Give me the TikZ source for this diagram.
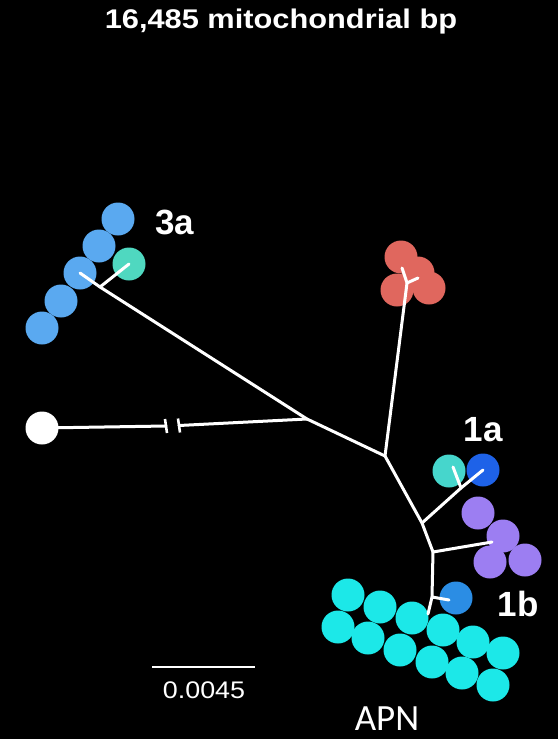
\documentclass[tikz,border=0pt]{standalone}
\usepackage{fontspec}
\setmainfont{Liberation Sans}
\newfontfamily\apnfont{Carlito}
\begin{document}
\begin{tikzpicture}[x=1pt,y=-1pt,
  dot/.style={circle,inner sep=0pt,minimum size=33pt,draw=none},
  blu3/.style={dot,fill=c3a},
  branch/.style={draw=white,line width=3pt,line cap=round,line join=round},
  lbl/.style={text=white,font=\bfseries\fontsize{35}{40}\selectfont,inner sep=0pt}]
\definecolor{c3a}{HTML}{5AA9F0}
\definecolor{cteal}{HTML}{4FD8C0}
\definecolor{cred}{HTML}{E0675E}
\definecolor{cteal1}{HTML}{46D6CC}
\definecolor{cblue1}{HTML}{1E62E8}
\definecolor{cpur}{HTML}{9C7EF2}
\definecolor{cblue1b}{HTML}{2B8DE4}
\definecolor{ccyan}{HTML}{1CE8E8}
\fill[black] (0,0) rectangle (558,739);
\useasboundingbox (0,0) rectangle (558,739);
% title
\node[text=white,font=\bfseries\fontsize{27}{32}\selectfont,xscale=1.14,inner sep=0pt] (title) at (281,22) {16,485 mitochondrial bp};
% 3a cluster
\node[blu3] (a1) at (118,219) {};
\node[blu3] (a2) at (99,246) {};
\node[blu3] (a3) at (80,273) {};
\node[blu3] (a4) at (61,301) {};
\node[blu3] (a5) at (42,328) {};
\node[dot,fill=cteal] (at) at (129,264) {};
\node[lbl] (l3a) at (175,222) {3a};
% red cluster
\node[dot,fill=cred] (r1) at (401,257) {};
\node[dot,fill=cred] (r2) at (418,273) {};
\node[dot,fill=cred] (r3) at (429,288) {};
\node[dot,fill=cred] (r4) at (397,290) {};
% outgroup
\node[dot,fill=white] (og) at (42,428) {};
% 1a
\node[dot,fill=cteal1] (t1) at (449,471) {};
\node[dot,fill=cblue1] (b1) at (483,470) {};
\node[lbl] (l1a) at (483,430) {1a};
% purple
\node[dot,fill=cpur] (p1) at (478,513) {};
\node[dot,fill=cpur] (p2) at (503,536) {};
\node[dot,fill=cpur] (p3) at (490,562) {};
\node[dot,fill=cpur] (p4) at (525,560) {};
% 1b
\node[dot,fill=cblue1b] (b1b) at (456,598) {};
\node[lbl] (l1b) at (518,604) {1b};
% cyan cluster
\foreach \i/\x/\y in {1/348/595,2/380/607,3/412/618,4/443/630,5/473/642,6/503/653,
                      7/338/627,8/368/638,9/400/650,10/432/662,11/462/673,12/493/685}
  \node[dot,fill=ccyan] (cy\i) at (\x,\y) {};
% tree junctions
\coordinate (c0) at (385,456);
\coordinate (j3) at (307,419);
\coordinate (j3a) at (100,287);
\coordinate (rj) at (407,283);
\coordinate (re1) at (402,268);
\coordinate (re2) at (418,278);
\coordinate (j1) at (422,523);
\coordinate (j1a) at (461,488);
\coordinate (j2) at (433,552);
\coordinate (pe) at (492,542);
\coordinate (jb) at (432,597);
\coordinate (ce) at (428,614);
\coordinate (be) at (449,600);
\coordinate (brkL) at (166,426);
\coordinate (brkR) at (179,425.5);
% branches
\draw[branch] (a3.center) -- (j3a) -- (j3) -- (c0);
\draw[branch] (j3a) -- (at.center);
\draw[branch] (og.center) -- (brkL);
\draw[branch] (brkR) -- (j3);
\draw[draw=white,line width=2.6pt] ([shift={(-1,-7)}]brkL) -- ([shift={(1,7)}]brkL);
\draw[draw=white,line width=2.6pt] ([shift={(-1,-7)}]brkR) -- ([shift={(1,7)}]brkR);
\draw[branch] (c0) -- (rj) -- (re1);
\draw[branch] (rj) -- (re2);
\draw[branch] (c0) -- (j1) -- (j2) -- (jb) -- (ce);
\draw[branch] (j1) -- (j1a) -- (b1.center);
\draw[branch] (j1a) -- ([shift={(4,-4)}]t1.center);
\draw[branch] (j2) -- (pe);
\draw[branch] (jb) -- (be);
% scale bar
\coordinate (sb1) at (152,667);
\coordinate (sb2) at (255,667);
\draw[draw=white,line width=2.8pt] (sb1) -- (sb2);
\node[text=white,font=\fontsize{24}{28}\selectfont,xscale=1.12,inner sep=0pt] (sbl) at (204,690) {0.0045};
% APN
\node[text=white,font=\apnfont\fontsize{37}{42}\selectfont,inner sep=0pt] (apn) at (387,719) {APN};
\end{tikzpicture}
\end{document}
